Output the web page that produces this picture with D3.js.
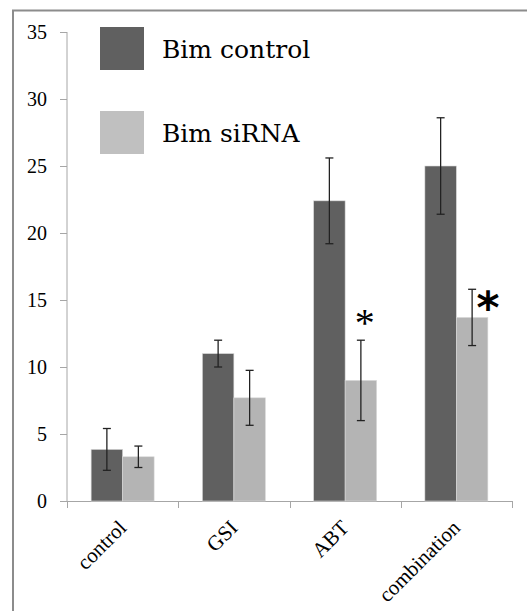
<!DOCTYPE html>
<html>
<head>
<meta charset="utf-8">
<script src="https://cdn.jsdelivr.net/npm/d3@7"></script>
<style>
  body { margin: 0; background: #fff; }
  svg { display: block; }
  .serif { font-family: "Liberation Serif", "Times New Roman", Times, serif; }
</style>
</head>
<body>
<div id="chart"></div>
<script>
const categories = ["control", "GSI", "ABT", "combination"];
const seriesNames = ["Bim control", "Bim siRNA"];
const controlValues = [3.85, 11.0, 22.4, 25.0];
const controlErrors = [1.56, 1.0, 3.2, 3.6];
const sirnaValues = [3.3, 7.7, 9.0, 13.7];
const sirnaErrors = [0.8, 2.05, 3.0, 2.1];
const yTicks = [0, 5, 10, 15, 20, 25, 30, 35];
// significance marks on the siRNA bars
const marks = [
  { category: "ABT", symbol: "*", bold: false },
  { category: "combination", symbol: "*", bold: true },
];

const width = 527;
const height = 611;
const serifFont = "'Liberation Serif', 'Times New Roman', Times, serif";

const svg = d3.select("#chart")
  .append("svg")
  .attr("width", width)
  .attr("height", height);

// outer frame (only top and left visible)
svg.append("rect")
  .attr("x", 13)
  .attr("y", 10.5)
  .attr("width", 700)
  .attr("height", 700)
  .attr("fill", "none")
  .attr("stroke", "#8c8c8c")
  .attr("stroke-width", 2);

const x = d3.scaleBand()
  .domain(categories)
  .range([67, 512])
  .paddingInner(0)
  .paddingOuter(0);

const x1 = d3.scaleBand()
  .domain(seriesNames)
  .range([0, x.bandwidth()])
  .paddingInner(0)
  .paddingOuter(0.766);

const y = d3.scaleLinear()
  .domain([0, 35])
  .range([501, 32]);

const color = d3.scaleOrdinal()
  .domain(seriesNames)
  .range(["#606060", "#b4b4b4"]);

const rows = categories.map((c, i) => ({
  category: c,
  values: [
    { name: seriesNames[0], value: controlValues[i], err: controlErrors[i] },
    { name: seriesNames[1], value: sirnaValues[i], err: sirnaErrors[i] },
  ],
}));

// y axis
const yAxis = d3.axisLeft(y)
  .tickValues(yTicks)
  .tickSize(7)
  .tickPadding(13);

const gy = svg.append("g")
  .attr("transform", "translate(67,0)")
  .call(yAxis)
  .attr("font-family", serifFont)
  .attr("font-size", 20);
gy.select(".domain").attr("stroke", "#a6a6a6").attr("d", `M0,${y(35)}V${y(0)}`);
gy.selectAll(".tick line").attr("stroke", "#a6a6a6");
gy.selectAll("text").attr("fill", "#000");

// x axis: ticks at category boundaries
svg.append("line")
  .attr("x1", x.range()[0])
  .attr("x2", x.range()[1])
  .attr("y1", y(0) + 0.5)
  .attr("y2", y(0) + 0.5)
  .attr("stroke", "#a6a6a6");

const boundaries = categories.map(c => x(c)).concat([x.range()[1]]);
svg.selectAll(".xtick")
  .data(boundaries)
  .join("line")
  .attr("class", "xtick")
  .attr("x1", d => Math.round(d) + 0.5)
  .attr("x2", d => Math.round(d) + 0.5)
  .attr("y1", y(0))
  .attr("y2", y(0) + 7)
  .attr("stroke", "#a6a6a6");

// category labels
svg.selectAll(".xlabel")
  .data(categories)
  .join("text")
  .attr("class", "xlabel serif")
  .attr("transform", d => `translate(${x(d) + x.bandwidth() / 2 + 5},${529}) rotate(-45)`)
  .attr("text-anchor", "end")
  .attr("font-size", 21)
  .text(d => d);

// bars
const groups = svg.selectAll(".group")
  .data(rows)
  .join("g")
  .attr("class", "group")
  .attr("transform", d => `translate(${x(d.category)},0)`);

groups.selectAll("rect")
  .data(d => d.values)
  .join("rect")
  .attr("x", d => x1(d.name))
  .attr("width", x1.bandwidth())
  .attr("y", d => y(d.value))
  .attr("height", d => y(0) - y(d.value))
  .attr("fill", d => color(d.name))
  .attr("stroke", "#d9d9d9")
  .attr("stroke-width", 0.6);

// error bars
const errs = groups.selectAll(".err")
  .data(d => d.values)
  .join("g")
  .attr("class", "err")
  .attr("transform", d => `translate(${x1(d.name) + x1.bandwidth() / 2},0)`);

errs.append("line")
  .attr("y1", d => y(d.value + d.err))
  .attr("y2", d => y(d.value - d.err))
  .attr("stroke", "#222")
  .attr("stroke-width", 1.3);

errs.selectAll(".cap")
  .data(d => [d.value + d.err, d.value - d.err])
  .join("line")
  .attr("class", "cap")
  .attr("x1", -4)
  .attr("x2", 4)
  .attr("y1", d => y(d))
  .attr("y2", d => y(d))
  .attr("stroke", "#222")
  .attr("stroke-width", 1.3);

// asterisks
marks.forEach(m => {
  const i = categories.indexOf(m.category);
  const top = y(sirnaValues[i] + sirnaErrors[i]);
  const cx = x(m.category) + x1(seriesNames[1]) + x1.bandwidth() / 2;
  if (m.bold) {
    svg.append("text")
      .attr("x", cx + 16)
      .attr("y", top + 34)
      .attr("text-anchor", "middle")
      .style("font-family", "'DejaVu Sans', sans-serif")
      .style("font-weight", "bold")
      .style("font-size", "44px")
      .text(m.symbol);
  } else {
    svg.append("text")
      .attr("class", "serif")
      .attr("x", cx + 4)
      .attr("y", top - 4)
      .attr("text-anchor", "middle")
      .attr("font-size", 40)
      .text(m.symbol);
  }
});

// legend
const legend = svg.append("g").attr("class", "legend");
seriesNames.forEach((name, i) => {
  const row = legend.append("g")
    .attr("transform", `translate(100, ${27 + i * 84})`);
  row.append("rect")
    .attr("width", 44)
    .attr("height", 43)
    .attr("fill", i === 0 ? "#606060" : "#c0c0c0");
  row.append("text")
    .attr("x", 62)
    .attr("y", 31)
    .style("font-family", "'DejaVu Serif', serif")
    .style("font-size", "25px")
    .text(name);
});
</script>
</body>
</html>
